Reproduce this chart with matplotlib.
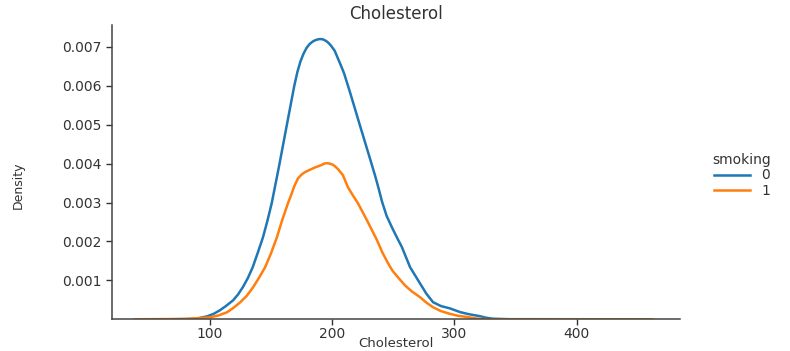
import matplotlib
matplotlib.use("Agg")
import matplotlib.pyplot as plt

# KDE curves of cholesterol by smoking status (x = cholesterol, y = density)
chol_0 = [67, 88, 97.5, 103, 108, 113, 119, 123, 127, 131, 135, 139, 143.4, 147, 150.5,
          156.5, 163, 169, 171.5, 174, 176.5, 179, 181.5, 184.3, 187, 190, 192.5, 195, 197,
          199, 202, 204.7, 207, 209.7, 214.6, 222.7, 230.9, 235, 238, 240.8, 244.5, 248.9,
          253, 257.1, 263.7, 268, 271.9, 277, 282.5, 289, 296.4, 304.6, 312, 320.9,
          326, 331.6, 345, 457.6]
dens_0 = [0.0, 0.00001, 0.000075, 0.00014, 0.00023, 0.00034, 0.00049, 0.00064, 0.00083,
          0.00106, 0.00134, 0.0017, 0.00211, 0.00253, 0.00298, 0.00393, 0.00501, 0.0060,
          0.00635, 0.00662, 0.00682, 0.00697, 0.00707, 0.00714, 0.00718, 0.0072, 0.00719,
          0.00715, 0.0071, 0.00703, 0.0069, 0.0067, 0.00653, 0.00632, 0.00583, 0.00498,
          0.00413, 0.0037, 0.00336, 0.00302, 0.00266, 0.00236, 0.0021, 0.00185, 0.00134,
          0.00112, 0.00092, 0.00066, 0.00044, 0.00034, 0.00028, 0.000185, 0.00013,
          0.00008, 0.00004, 0.000015, 0.000003, 0.0]

chol_1 = [38.6, 80, 100, 107, 113.9, 119, 124.5, 130, 135.2, 140, 145, 150, 154.8, 159,
          163.8, 166.5, 169, 172, 175, 177.7, 181, 185.9, 188.5, 191, 193.5, 195.7, 198,
          200.5, 202.3, 205, 208.8, 212.9, 217, 221.1, 228.5, 236.7, 241, 245.7, 249.5,
          253.8, 259.6, 265, 271.8, 277, 282.5, 289, 296.4, 303, 310.3, 318, 326.7, 462.5]
dens_1 = [0.0, 0.00001, 0.00005, 0.0001, 0.00018, 0.00029, 0.00043, 0.0006, 0.00082,
          0.00106, 0.00133, 0.0017, 0.00211, 0.00254, 0.00298, 0.0032, 0.00342, 0.00362,
          0.00372, 0.00378, 0.00383, 0.0039, 0.00393, 0.00396, 0.004, 0.00401, 0.004,
          0.00397, 0.00393, 0.00385, 0.0037, 0.00339, 0.00318, 0.00298, 0.00254, 0.00203,
          0.00172, 0.00144, 0.00124, 0.00108, 0.00087, 0.00072, 0.00057, 0.00043, 0.00031,
          0.00021, 0.00014, 0.00009, 0.00006, 0.00002, 0.0, 0.0]

groups = ["0", "1"]
colors = ["#1f77b4", "#ff7f0e"]
yticks = [0.001, 0.002, 0.003, 0.004, 0.005, 0.006, 0.007]
xticks = [100, 200, 300, 400]

txt = "#333333"
fig = plt.figure(figsize=(7.9, 3.51), dpi=100)
ax = fig.add_axes([0.1414, 0.0903, 0.7194, 0.8385])

lines = []
for xs, ys, c, g in zip([chol_0, chol_1], [dens_0, dens_1], colors, groups):
    ln, = ax.plot(xs, ys, color=c, lw=1.8, label=g, solid_joinstyle="round")
    lines.append(ln)

ax.set_xlim(19.6, 484.6)
ax.set_ylim(0, 0.00756)
ax.set_xticks(xticks)
ax.set_yticks(yticks)
ax.set_yticklabels([f"{v:.3f}" for v in yticks])
ax.tick_params(labelsize=10, colors=txt, length=4, width=1)
ax.tick_params(axis="x", pad=1.5)

for s in ["top", "right"]:
    ax.spines[s].set_visible(False)
for s in ["left", "bottom"]:
    ax.spines[s].set_color("#444444")
    ax.spines[s].set_linewidth(1.1)

ax.set_title("Cholesterol", fontsize=12, color=txt, pad=4)
ax.set_xlabel("Cholesterol", fontsize=9.5, color=txt, labelpad=-2.5)
fig.text(0.023, 0.473, "Density", rotation=90, ha="center", va="center",
         fontsize=9, color=txt)

leg = fig.legend(handles=lines, labels=groups, title="smoking", frameon=False,
                 loc="center left", bbox_to_anchor=(0.893, 0.50),
                 fontsize=10, title_fontsize=10, handlelength=2.6,
                 handletextpad=0.8, labelspacing=0.1, borderpad=0)
for t in leg.get_texts():
    t.set_color(txt)
leg.get_title().set_color(txt)

fig.savefig("out.png", dpi=100)
